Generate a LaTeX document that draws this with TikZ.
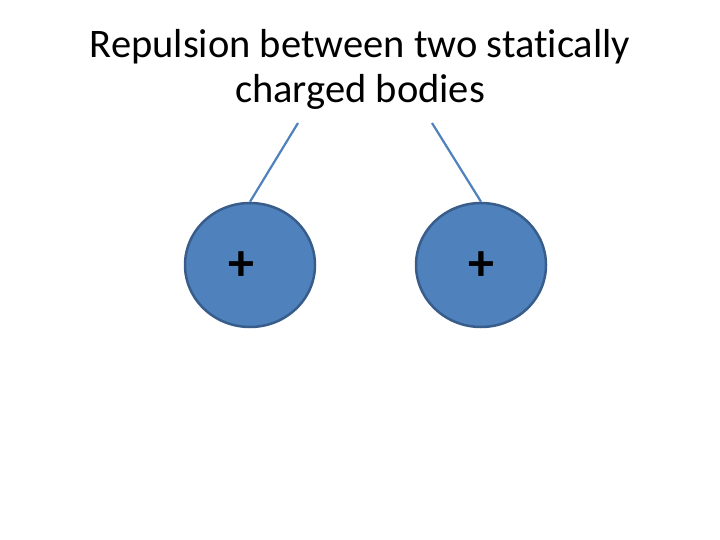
\documentclass[tikz,border=0pt]{standalone}
\usepackage{fontspec}
\setmainfont{Carlito}[RawFeature=-liga]
\usetikzlibrary{shapes.geometric}
\definecolor{ballfill}{HTML}{4F81BD}
\definecolor{balledge}{HTML}{385D8A}
\definecolor{threadc}{HTML}{4F81BD}
\begin{document}
\begin{tikzpicture}[x=1pt,y=-1pt,
  ball/.style={ellipse,draw=balledge,fill=ballfill,line width=2.5pt,minimum width=130pt,minimum height=124pt,inner sep=0pt},
  thread/.style={draw=threadc,line width=2.2pt},
  charge/.style={font=\fontsize{52}{52}\selectfont\bfseries,inner sep=0pt}]
\useasboundingbox (0,0) rectangle (720,540);
\node[align=center,font=\fontsize{40.5}{45}\selectfont,anchor=base] (title) at (360,103) {Repulsion between two statically\\charged bodies};
\node[ball] (L) at (250,265) {};
\node[ball] (R) at (481,265) {};
\coordinate (lt) at (298,123);
\coordinate (rt) at (432,123);
\draw[thread] (lt) -- (L.north);
\draw[thread] (rt) -- (R.north);
\node[charge] (pl) at (241,266) {+};
\node[charge] (pr) at (481,266) {+};
\end{tikzpicture}
\end{document}
